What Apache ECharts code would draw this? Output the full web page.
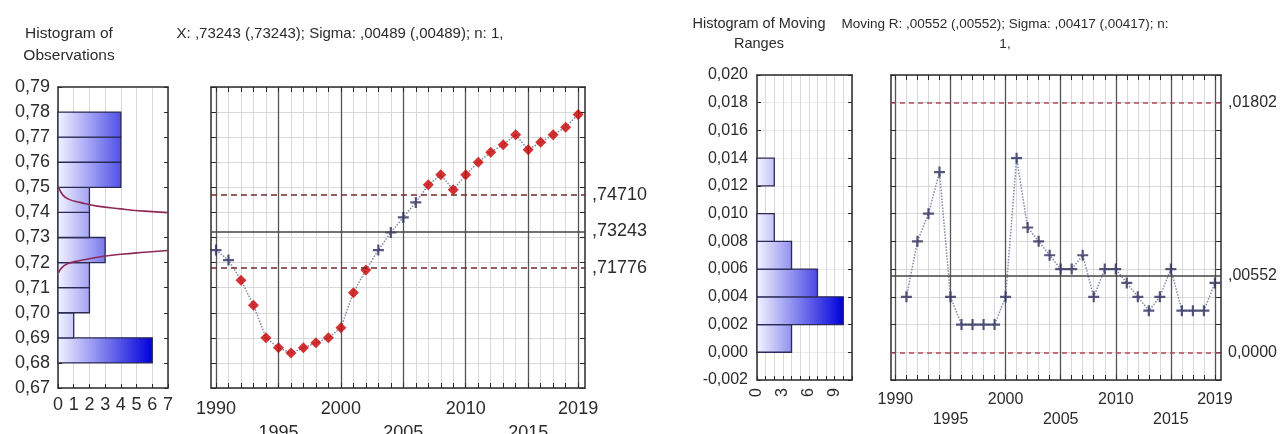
<!DOCTYPE html>
<html><head><meta charset="utf-8">
<script src="https://cdn.jsdelivr.net/npm/echarts@6.0.0/dist/echarts.min.js"></script>
<style>html,body{margin:0;padding:0;background:#fff}#c{width:1286px;height:434px}</style>
</head><body><div id="c"></div>
<script>
// ---- data ----
const years = [1990,1991,1992,1993,1994,1995,1996,1997,1998,1999,2000,2001,2002,2003,2004,2005,2006,2007,2008,2009,2010,2011,2012,2013,2014,2015,2016,2017,2018,2019];
const observations = [0.725,0.721,0.713,0.703,0.690,0.686,0.684,0.686,0.688,0.690,0.694,0.708,0.717,0.725,0.732,0.738,0.744,0.751,0.755,0.749,0.755,0.760,0.764,0.767,0.771,0.765,0.768,0.771,0.774,0.779];
const mrYears = [1991,1992,1993,1994,1995,1996,1997,1998,1999,2000,2001,2002,2003,2004,2005,2006,2007,2008,2009,2010,2011,2012,2013,2014,2015,2016,2017,2018,2019];
const movingRanges = [0.004,0.008,0.010,0.013,0.004,0.002,0.002,0.002,0.002,0.004,0.014,0.009,0.008,0.007,0.006,0.006,0.007,0.004,0.006,0.006,0.005,0.004,0.003,0.004,0.006,0.003,0.003,0.003,0.005];

const obsBinLow  = [0.68,0.69,0.70,0.71,0.72,0.73,0.74,0.75,0.76,0.77];
const obsBinHigh = [0.69,0.70,0.71,0.72,0.73,0.74,0.75,0.76,0.77,0.78];
const obsCounts  = [6,1,2,2,3,2,2,4,4,4];

const mrBinLow  = [0.000,0.002,0.004,0.006,0.008,0.010,0.012];
const mrBinHigh = [0.002,0.004,0.006,0.008,0.010,0.012,0.014];
const mrCounts  = [4,10,7,4,2,0,2];

// fitted normal curve as it appears on the histogram (count, value)
const normalUpper = [[0.05,0.7500],[0.3,0.7470],[0.7,0.7452],[1.4,0.7440],[2.5,0.7425],[4,0.7414],[5.5,0.7405],[7,0.7399]];
const normalLower = [[7,0.7248],[5.5,0.7241],[4,0.7233],[2.9,0.7225],[1.4,0.7208],[0.6,0.7195],[0.2,0.7177],[0.05,0.7160]];

const xLimits = [0.74710, 0.73243, 0.71776];       // UCL, centre, LCL
const xLimitLabels = [',74710', ',73243', ',71776'];
const mrLimits = [0.01802, 0.00552, 0.0];
const mrLimitLabels = [',01802', ',00552', '0,0000'];

const labelYearsRow1 = [1990,2000,2010,2019];
const labelYearsRow2 = [1995,2005,2015];
const majorYears = [1990,1995,2000,2005,2010,2015,2019];

const titles = {
  obsHist: 'Histogram of\nObservations',
  xChart: 'X: ,73243 (,73243); Sigma: ,00489 (,00489); n: 1,',
  mrHist: 'Histogram of Moving\nRanges',
  mrChart: 'Moving R: ,00552 (,00552); Sigma: ,00417 (,00417); n:\n1,'
};

// ---- chart ----
const FONT = '"Liberation Sans", Arial, sans-serif';
const DARK = '#2b2b2b';
const LIGHT = '#d9d9d9';
const crossPath = 'path://M4,0H6V4H10V6H6V10H4V6H0V4H4Z';
const chart = echarts.init(document.getElementById('c'));

function histRender(gradMax) {
  return function (params, api) {
    const lo = api.value(0), hi = api.value(1), c = api.value(2);
    if (!c) return null;
    const pTop = api.coord([0, hi]);
    const pBot = api.coord([c, lo]);
    const g0 = api.coord([0, lo])[0], g1 = api.coord([gradMax, lo])[0];
    return {
      type: 'rect',
      shape: { x: pTop[0], y: pTop[1], width: pBot[0] - pTop[0], height: pBot[1] - pTop[1] },
      style: {
        fill: new echarts.graphic.LinearGradient(g0, 0, g1, 0,
          [{ offset: 0, color: '#f3f3ff' }, { offset: 1, color: '#0000dc' }], true),
        stroke: '#2a2a55', lineWidth: 1.3
      }
    };
  };
}
const fmtYear = v => String(Math.round(v));
const lineAx = { show: true, onZero: false, lineStyle: { color: DARK, width: 1.5 } };
const noLine = { show: false, onZero: false };

function yearAxes(grid, fs, m1, m2) {
  const base = { type: 'value', gridIndex: grid, min: 1989.6, max: 2019.55 };
  return [
    Object.assign({}, base, {
      position: 'bottom', axisLine: lineAx,
      axisTick: { show: true, inside: true, length: 5, customValues: years, lineStyle: { color: DARK } },
      axisLabel: { customValues: labelYearsRow1, formatter: fmtYear, margin: m1, fontSize: fs, color: DARK, fontFamily: FONT },
      splitLine: { show: true, lineStyle: { color: LIGHT, width: 1 } }
    }),
    Object.assign({}, base, {
      position: 'bottom', axisLine: noLine,
      axisTick: { show: false, customValues: majorYears },
      axisLabel: { customValues: labelYearsRow2, formatter: fmtYear, margin: m2, fontSize: fs, color: DARK, fontFamily: FONT },
      splitLine: { show: true, lineStyle: { color: '#555', width: 1.3 } }
    }),
    Object.assign({}, base, {
      position: 'top', axisLine: lineAx,
      axisTick: { show: true, inside: true, length: 5, customValues: years, lineStyle: { color: DARK } },
      axisLabel: { show: false }, splitLine: { show: false }
    })
  ];
}

function limitMarkLine(vals, labels, dashColor, dashType, fs) {
  return {
    silent: true, symbol: ['none', 'none'], animation: false, precision: 6,
    label: { show: true, position: 'end', distance: 7, color: DARK, fontSize: fs, fontFamily: FONT },
    data: vals.map((v, i) => ({
      yAxis: v,
      lineStyle: i === 1 ? { type: 'solid', color: '#444', width: 1.5 } : { type: dashType, color: dashColor, width: 1.5 },
      label: { formatter: labels[i] }
    }))
  };
}

const obsPts = years.map((y, i) => [y, observations[i]]);
const outPts = obsPts.filter(p => p[1] > xLimits[0] || p[1] < xLimits[2]);
const inPts = obsPts.filter(p => !(p[1] > xLimits[0] || p[1] < xLimits[2]));
const mrPts = mrYears.map((y, i) => [y, movingRanges[i]]);

const gridBase = { outerBoundsMode: 'none', containLabel: false };
const option = {
  animation: false,
  textStyle: { fontFamily: FONT },
  grid: [
    Object.assign({ left: 58, top: 87, width: 110, height: 301 }, gridBase),
    Object.assign({ left: 211, top: 87, width: 374, height: 301 }, gridBase),
    Object.assign({ left: 757, top: 75, width: 95, height: 305 }, gridBase),
    Object.assign({ left: 891, top: 75, width: 330, height: 305 }, gridBase)
  ],
  xAxis: [
    { type: 'value', gridIndex: 0, position: 'bottom', min: 0, max: 7, interval: 1, axisLine: lineAx,
      axisTick: { show: true, inside: true, length: 4, lineStyle: { color: DARK } },
      axisLabel: { margin: 8, fontSize: 18, color: DARK, fontFamily: FONT },
      splitLine: { show: true, lineStyle: { color: LIGHT } } },
    { type: 'value', gridIndex: 0, position: 'top', min: 0, max: 7, interval: 1, axisLine: lineAx,
      axisTick: { show: false }, axisLabel: { show: false }, splitLine: { show: false } },
    ...yearAxes(1, 18, 12, 36),
    { type: 'value', gridIndex: 2, position: 'bottom', min: 0, max: 11, interval: 1, axisLine: lineAx,
      axisTick: { show: true, inside: true, length: 4, lineStyle: { color: DARK } },
      axisLabel: { margin: 8, rotate: 90, fontSize: 16, color: DARK, fontFamily: FONT,
        formatter: v => (v % 3 === 0 && v < 10 ? String(v) : '') },
      splitLine: { show: true, lineStyle: { color: LIGHT } } },
    { type: 'value', gridIndex: 2, position: 'top', min: 0, max: 11, interval: 1, axisLine: lineAx,
      axisTick: { show: false }, axisLabel: { show: false }, splitLine: { show: false } },
    ...yearAxes(3, 16, 12, 32)
  ],
  yAxis: [
    { type: 'value', gridIndex: 0, position: 'left', min: 0.67, max: 0.79, interval: 0.01, axisLine: lineAx,
      axisTick: { show: true, inside: true, length: 4, lineStyle: { color: DARK } },
      axisLabel: { margin: 8, fontSize: 18, color: DARK, fontFamily: FONT, formatter: v => v.toFixed(2).replace('.', ',') },
      splitLine: { show: false } },
    { type: 'value', gridIndex: 0, position: 'right', min: 0.67, max: 0.79, interval: 0.01, axisLine: lineAx,
      axisTick: { show: true, inside: true, length: 4, lineStyle: { color: DARK } }, axisLabel: { show: false }, splitLine: { show: false } },
    { type: 'value', gridIndex: 1, position: 'left', min: 0.67, max: 0.79, interval: 0.01, axisLine: lineAx,
      axisTick: { show: true, inside: true, length: 5, lineStyle: { color: DARK } }, axisLabel: { show: false },
      splitLine: { show: true, lineStyle: { color: LIGHT } } },
    { type: 'value', gridIndex: 1, position: 'right', min: 0.67, max: 0.79, interval: 0.01, axisLine: lineAx,
      axisTick: { show: true, inside: true, length: 5, lineStyle: { color: DARK } }, axisLabel: { show: false }, splitLine: { show: false } },
    { type: 'value', gridIndex: 2, position: 'left', min: -0.002, max: 0.020, interval: 0.002, axisLine: lineAx,
      axisTick: { show: true, inside: true, length: 4, lineStyle: { color: DARK } },
      axisLabel: { margin: 9, fontSize: 16, color: DARK, fontFamily: FONT, formatter: v => v.toFixed(3).replace('.', ',') },
      splitLine: { show: true, lineStyle: { color: '#ececec' } } },
    { type: 'value', gridIndex: 2, position: 'right', min: -0.002, max: 0.020, interval: 0.002, axisLine: lineAx,
      axisTick: { show: true, inside: true, length: 4, lineStyle: { color: DARK } }, axisLabel: { show: false }, splitLine: { show: false } },
    { type: 'value', gridIndex: 3, position: 'left', min: -0.002, max: 0.020, interval: 0.002, axisLine: lineAx,
      axisTick: { show: true, inside: true, length: 5, lineStyle: { color: DARK } }, axisLabel: { show: false },
      splitLine: { show: true, lineStyle: { color: LIGHT } } },
    { type: 'value', gridIndex: 3, position: 'right', min: -0.002, max: 0.020, interval: 0.002, axisLine: lineAx,
      axisTick: { show: true, inside: true, length: 5, lineStyle: { color: DARK } }, axisLabel: { show: false }, splitLine: { show: false } }
  ],
  series: [
    { type: 'custom', xAxisIndex: 0, yAxisIndex: 0, renderItem: histRender(6),
      data: obsBinLow.map((lo, i) => [lo, obsBinHigh[i], obsCounts[i]]), z: 2 },
    { type: 'line', xAxisIndex: 0, yAxisIndex: 0, data: normalUpper, smooth: true, showSymbol: false, symbol: 'none',
      lineStyle: { color: '#8e2a58', width: 1.6 }, z: 3 },
    { type: 'line', xAxisIndex: 0, yAxisIndex: 0, data: normalLower, smooth: true, showSymbol: false, symbol: 'none',
      lineStyle: { color: '#8e2a58', width: 1.6 }, z: 3 },

    { type: 'line', xAxisIndex: 2, yAxisIndex: 2, data: obsPts, symbol: 'none',
      lineStyle: { color: '#7d89a6', width: 1.5, type: 'dotted' },
      markLine: limitMarkLine(xLimits, xLimitLabels, '#742a2a', [6, 4], 18), z: 3 },
    { type: 'scatter', xAxisIndex: 2, yAxisIndex: 2, data: outPts, symbol: 'diamond', symbolSize: 11,
      itemStyle: { color: '#c80000' }, z: 4 },
    { type: 'scatter', xAxisIndex: 2, yAxisIndex: 2, data: inPts, symbol: crossPath, symbolSize: 11,
      itemStyle: { color: '#2d2d5e' }, z: 4 },

    { type: 'custom', xAxisIndex: 5, yAxisIndex: 4, renderItem: histRender(10),
      data: mrBinLow.map((lo, i) => [lo, mrBinHigh[i], mrCounts[i]]), z: 2 },

    { type: 'line', xAxisIndex: 7, yAxisIndex: 6, data: mrPts, symbol: 'none',
      lineStyle: { color: '#7d89a6', width: 1.5, type: 'dotted' },
      markLine: limitMarkLine(mrLimits, mrLimitLabels, '#b24a5c', [5, 4], 16), z: 3 },
    { type: 'scatter', xAxisIndex: 7, yAxisIndex: 6, data: mrPts, symbol: crossPath, symbolSize: 11,
      itemStyle: { color: '#2d2d5e' }, z: 4 }
  ],
  graphic: [
    { type: 'text', x: 69, y: 45, style: { text: titles.obsHist, textAlign: 'center', textVerticalAlign: 'middle', font: '15.5px ' + FONT, fill: DARK, lineHeight: 22 } },
    { type: 'text', x: 340, y: 34, style: { text: titles.xChart, textAlign: 'center', textVerticalAlign: 'middle', font: '15px ' + FONT, fill: DARK } },
    { type: 'text', x: 759, y: 34, style: { text: titles.mrHist, textAlign: 'center', textVerticalAlign: 'middle', font: '14.5px ' + FONT, fill: DARK, lineHeight: 20 } },
    { type: 'text', x: 1005, y: 34, style: { text: titles.mrChart, textAlign: 'center', textVerticalAlign: 'middle', font: '13.5px ' + FONT, fill: DARK, lineHeight: 20 } }
  ]
};
chart.setOption(option);
</script>
</body></html>
